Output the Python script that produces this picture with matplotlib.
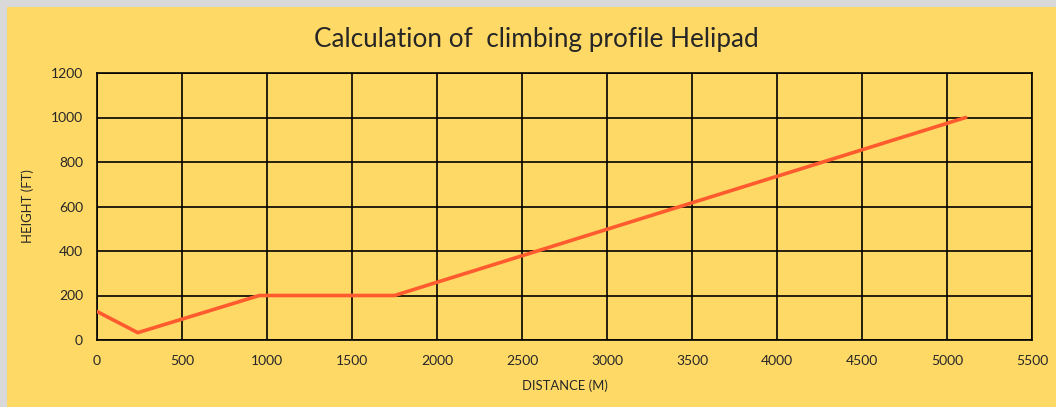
import matplotlib
matplotlib.use("Agg")
import matplotlib.pyplot as plt
from matplotlib.patches import Rectangle

distance_m = [0, 240, 955, 1750, 5110]
height_ft = [128, 33, 200, 200, 1000]
x_ticks = list(range(0, 5501, 500))
y_ticks = list(range(0, 1201, 200))
title = "Calculation of  climbing profile Helipad"

plt.rcParams['font.family'] = ['Lato', 'DejaVu Sans']

W, H = 1056, 407
fig = plt.figure(figsize=(W / 100, H / 100), dpi=100, facecolor='#D9D9D9')
fig.patches.append(Rectangle((7 / W, 0), 1, 1 - 7 / H, transform=fig.transFigure,
                             facecolor='#FFD966', edgecolor='none', zorder=-10))

ax = fig.add_axes([97 / W, (H - 340) / H, (1032 - 97) / W, (340 - 73) / H])
ax.set_zorder(5)
ax.set_facecolor('#FFD966')
ax.plot(distance_m, height_ft, color='#FF5B2E', lw=2.6, solid_capstyle='round', zorder=3)

ax.set_xlim(0, 5500)
ax.set_ylim(0, 1200)
ax.set_xticks(x_ticks)
ax.set_yticks(y_ticks)
ax.grid(True, color='black', lw=1.2)
for s in ax.spines.values():
    s.set_color('black')
    s.set_linewidth(1.2)
ax.tick_params(length=0, labelsize=10, colors='#262626', pad=10)
ax.tick_params(axis='x', pad=11)

ax.set_xlabel("DISTANCE (M)", fontsize=9.4, color='#262626', labelpad=9)
ax.set_ylabel("HEIGHT (FT)", fontsize=9.4, color='#262626', labelpad=12)

fig.text(536 / W, 1 - 39 / H, title, ha='center', va='center', fontsize=18.8,
         color='#262626', zorder=6)

fig.savefig("out.png", dpi=100, facecolor=fig.get_facecolor())
